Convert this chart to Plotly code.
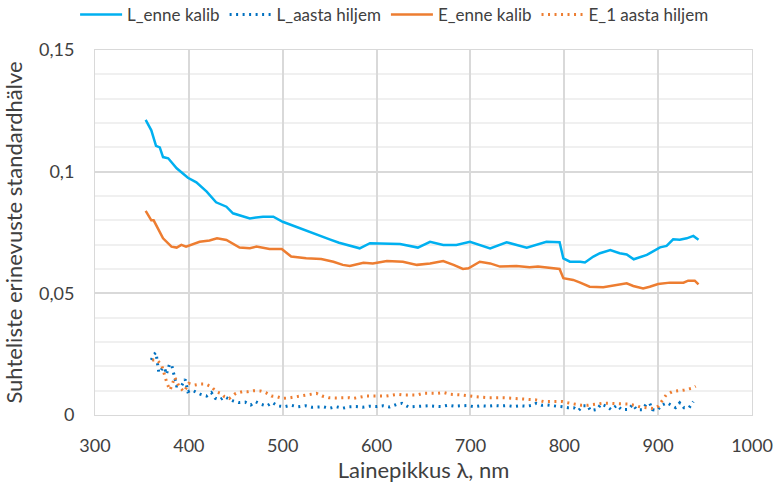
import plotly.graph_objects as go

# L_enne kalib
l_enne_x = [354, 360, 365, 369, 372.5, 378, 387, 399, 408, 419, 429, 440, 447, 465, 479, 490, 500,
            518, 536, 550, 560, 568, 582, 593, 611, 625, 644, 657, 671, 685, 699.5, 710, 721, 738.5,
            760, 781, 795, 799, 806, 817, 822, 831, 838, 849, 859, 866.5, 874, 888, 902, 909, 916,
            923, 930.5, 937.5, 943]
l_enne_y = [0.1213, 0.117, 0.1106, 0.110, 0.106, 0.1055, 0.1014, 0.0975, 0.0956, 0.0918, 0.0874,
            0.0856, 0.0829, 0.0808, 0.0815, 0.0815, 0.0794, 0.0767, 0.0740, 0.0722, 0.0708, 0.0699,
            0.0685, 0.0706, 0.0706, 0.0703, 0.0688, 0.0712, 0.0699, 0.0699, 0.0712, 0.0699, 0.0685,
            0.0710, 0.0688, 0.0712, 0.0710, 0.0644, 0.0630, 0.0630, 0.0627, 0.0651, 0.0665, 0.0678,
            0.0665, 0.0660, 0.0640, 0.0658, 0.0689, 0.0695, 0.0722, 0.0720, 0.0726, 0.0736, 0.0720]

# E_enne kalib
e_enne_x = [354, 360, 362.5, 372.5, 381.5, 387, 392, 397, 411.5, 422, 430, 440, 454, 465, 472, 486,
            499, 509, 525, 541, 554, 564, 571.5, 586, 596, 611, 628, 643, 657, 671, 682, 692, 698,
            710, 721, 731.5, 749, 763, 772, 785, 795, 799, 809.5, 817, 827, 841.5, 849, 866.5,
            873.5, 884, 891, 900, 912.5, 927, 932, 939, 943]
e_enne_y = [0.0839, 0.0800, 0.0800, 0.0726, 0.0692, 0.0688, 0.0699, 0.0692, 0.0712, 0.0717, 0.0726,
            0.0719, 0.0688, 0.0685, 0.0692, 0.0682, 0.0682, 0.0651, 0.0644, 0.0641, 0.0630, 0.0617,
            0.0612, 0.0626, 0.0623, 0.0633, 0.0630, 0.0617, 0.0623, 0.0633, 0.0617, 0.0600, 0.0603,
            0.0630, 0.0623, 0.0610, 0.0612, 0.0607, 0.0610, 0.0603, 0.0600, 0.0562, 0.0555, 0.0544,
            0.0527, 0.0525, 0.0530, 0.0541, 0.0530, 0.0520, 0.0527, 0.0538, 0.0544, 0.0544, 0.0552,
            0.0552, 0.0537]

# L_aasta hiljem
l_aasta_x = [360, 363, 365, 367, 368, 371, 374, 376, 379.5, 382, 383.5, 385, 387, 392, 396, 399, 403,
             408, 412, 419, 424, 428, 433, 438, 447, 453, 460, 466, 471, 477, 483, 489, 495, 502, 509,
             516, 524, 531, 538, 543, 550, 557, 564, 571, 578, 585, 592, 600, 607, 614, 621, 627, 634,
             641, 648, 655, 662, 669, 676, 683, 690, 697, 704, 711, 718, 725, 732, 739, 746, 753, 760,
             766, 770, 776, 782, 787, 792, 798, 804, 810, 815, 820, 825, 828, 835, 839, 845, 850, 856,
             861, 868, 873, 877, 883, 887, 891, 894, 899, 903.5, 909.5, 915, 918.5, 923, 927.5, 933,
             937.5]
l_aasta_y = [0.0226, 0.0250, 0.0256, 0.0201, 0.0174, 0.0188, 0.0196, 0.0167, 0.0210, 0.0201, 0.0174,
             0.0144, 0.0119, 0.0119, 0.0147, 0.0096, 0.0103, 0.0093, 0.0086, 0.0078, 0.0092, 0.0069,
             0.0062, 0.0075, 0.0058, 0.0051, 0.0053, 0.0041, 0.0055, 0.0044, 0.0037, 0.0051, 0.0037,
             0.0034, 0.0040, 0.0034, 0.0038, 0.0032, 0.0034, 0.0034, 0.0028, 0.0034, 0.0028, 0.0034,
             0.0035, 0.0032, 0.0036, 0.0035, 0.0038, 0.0033, 0.0043, 0.0048, 0.0033, 0.0035, 0.0037,
             0.0038, 0.0036, 0.0035, 0.0040, 0.0036, 0.0038, 0.0039, 0.0034, 0.0038, 0.0036, 0.0039,
             0.0037, 0.0039, 0.0035, 0.0038, 0.0036, 0.0040, 0.0048, 0.0040, 0.0041, 0.0040, 0.0036,
             0.0034, 0.0030, 0.0030, 0.0018, 0.0038, 0.0038, 0.0018, 0.0023, 0.0045, 0.0036, 0.0022,
             0.0040, 0.0022, 0.0023, 0.0043, 0.0022, 0.0022, 0.0043, 0.0048, 0.0022, 0.0019, 0.0040,
             0.0050, 0.0036, 0.0030, 0.0050, 0.0030, 0.0030, 0.0055]

# E_1 aasta hiljem
e_aasta_x = [361, 366, 371, 373, 375, 377, 380, 383, 385, 390, 395, 400, 406, 412, 418, 424, 429, 434,
             438, 443, 450, 457, 463, 469, 476, 482, 488, 494, 500, 508, 515, 522, 529, 536, 542, 549,
             556, 564, 571, 575, 589, 596, 610, 622, 629, 643, 650, 665, 672, 679, 692, 706, 720, 735,
             749, 761, 770, 778, 790, 798, 804, 811, 818, 825, 832, 840, 847, 854, 861, 868, 875, 881,
             888, 895, 900, 904, 908.5, 915, 921, 928, 936, 940]
e_aasta_y = [0.0226, 0.0226, 0.0205, 0.0182, 0.0150, 0.0127, 0.0103, 0.0130, 0.0155, 0.0114, 0.0096,
             0.0130, 0.0123, 0.0127, 0.0127, 0.0116, 0.0096, 0.0089, 0.0075, 0.0068, 0.0089, 0.0096,
             0.0096, 0.0100, 0.0099, 0.0092, 0.0078, 0.0075, 0.0068, 0.0071, 0.0075, 0.0082, 0.0085,
             0.0089, 0.0078, 0.0071, 0.0070, 0.0071, 0.0071, 0.0068, 0.0078, 0.0078, 0.0078, 0.0085,
             0.0082, 0.0082, 0.0089, 0.0089, 0.0092, 0.0085, 0.0082, 0.0075, 0.0071, 0.0071, 0.0068,
             0.0064, 0.0062, 0.0055, 0.0055, 0.0055, 0.0050, 0.0045, 0.0040, 0.0040, 0.0045, 0.0048,
             0.0048, 0.0048, 0.0048, 0.0045, 0.0040, 0.0033, 0.0030, 0.0026, 0.0036, 0.0059, 0.0082,
             0.0096, 0.0099, 0.0103, 0.0110, 0.0118]

FONT = "Lato, 'Open Sans', sans-serif"
GRID = "#D9D9D9"
TXT = "#404040"
DOT = "2px,4.5px"

fig = go.Figure()
fig.add_trace(go.Scatter(x=l_enne_x, y=l_enne_y, mode="lines", name="L_enne kalib",
                         line=dict(color="#00B0F0", width=2.5)))
fig.add_trace(go.Scatter(x=l_aasta_x, y=l_aasta_y, mode="lines", name="L_aasta hiljem",
                         line=dict(color="#0070C0", width=3, dash=DOT)))
fig.add_trace(go.Scatter(x=e_enne_x, y=e_enne_y, mode="lines", name="E_enne kalib",
                         line=dict(color="#ED7D31", width=2.5)))
fig.add_trace(go.Scatter(x=e_aasta_x, y=e_aasta_y, mode="lines", name="E_1 aasta hiljem",
                         line=dict(color="#ED7D31", width=3, dash=DOT)))

fig.update_layout(
    width=777, height=491,
    margin=dict(l=95, r=25, t=50, b=76, autoexpand=False),
    paper_bgcolor="white", plot_bgcolor="white",
    separators=", ",
    font=dict(family=FONT, size=17, color=TXT),
    legend=dict(orientation="h", x=0.456, xanchor="center", y=1.096, yanchor="middle",
                font=dict(size=17, color=TXT), itemwidth=42, tracegroupgap=0),
    showlegend=True,
)
fig.update_xaxes(range=[300, 1000], dtick=100, tick0=300, showgrid=True, gridcolor=GRID,
                 gridwidth=1.5, zeroline=False, showline=True, linecolor=GRID, mirror=True,
                 ticks="", tickfont=dict(size=18, color=TXT), ticklabelstandoff=14, automargin=False,
                 title=dict(text="Lainepikkus λ, nm", font=dict(size=22, color=TXT), standoff=6))
fig.update_yaxes(range=[0, 0.15], dtick=0.05, tick0=0, showgrid=True, gridcolor=GRID,
                 gridwidth=1.5, zeroline=False, showline=True, linecolor=GRID, mirror=True,
                 ticks="", tickfont=dict(size=18, color=TXT), ticklabelstandoff=16, automargin=False,
                 minor=dict(dtick=0.01, showgrid=True, gridcolor="#F0F0F0", gridwidth=1.5),
                 title=dict(text="Suhteliste erinevuste standardhälve", font=dict(size=22, color=TXT),
                            standoff=12))

fig.write_html("out.html")
